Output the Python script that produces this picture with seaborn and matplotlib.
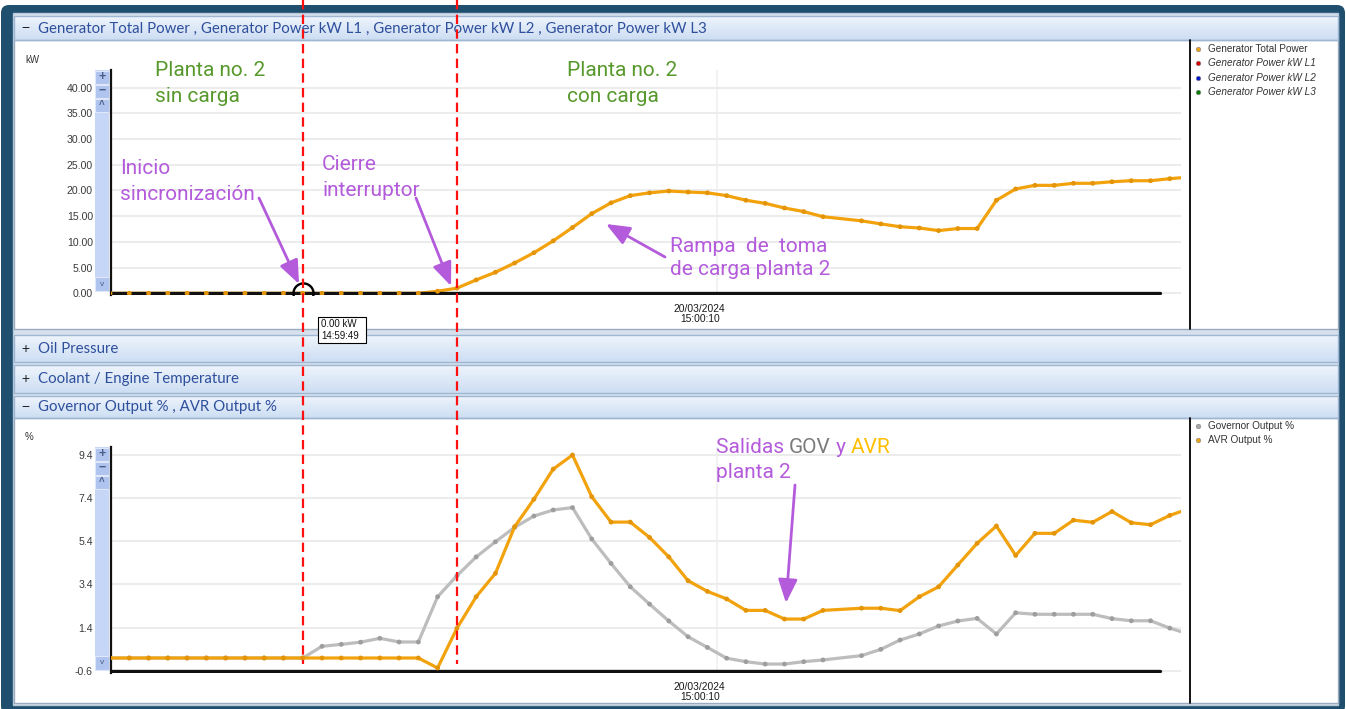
import numpy as np
import matplotlib
matplotlib.use("Agg")
import matplotlib.pyplot as plt
import matplotlib.transforms as mtransforms
from matplotlib.patches import Rectangle, FancyBboxPatch
from matplotlib.colors import LinearSegmentedColormap
import seaborn as sns

sns.set_style("white")
plt.rcParams["font.family"] = ["Liberation Sans", "DejaVu Sans"]

# sample times in seconds after 14:59:40 (sample at 37 s is missing in the log)
t_sec = [-1, 0, 1, 2, 3, 4, 5, 6, 7, 8, 9, 10, 11, 12, 13, 14, 15, 16, 17, 18,
         19, 20, 21, 22, 23, 24, 25, 26, 27, 28, 29, 30, 31, 32, 33, 34, 35, 36,
         38, 39, 40, 41, 42, 43, 44, 45, 46, 47, 48, 49, 50, 51, 52, 53, 54, 55]

gen_total_kw = [0, 0, 0, 0, 0, 0, 0, 0, 0, 0, 0, 0, 0, 0, 0, 0, 0,
                0.4, 1.0, 2.6, 4.1, 5.9, 7.9, 10.2, 12.8, 15.5, 17.6, 19.0,
                19.55, 19.9, 19.7, 19.55, 19.0, 18.1, 17.5, 16.6, 15.9, 14.9,
                14.1, 13.5, 12.95, 12.7, 12.2, 12.6, 12.6, 18.1, 20.3, 21.0,
                21.0, 21.4, 21.4, 21.7, 21.9, 21.9, 22.3, 22.6]

gov_output = [0, 0, 0, 0, 0, 0, 0, 0, 0, 0, 0,
              0.54, 0.63, 0.73, 0.91, 0.74, 0.74, 2.83, 3.80, 4.67, 5.37, 6.04,
              6.56, 6.84, 6.95, 5.50, 4.37, 3.29, 2.49, 1.71, 0.98, 0.49, -0.01,
              -0.17, -0.28, -0.28, -0.17, -0.09,
              0.11, 0.40, 0.83, 1.11, 1.48, 1.71, 1.83, 1.11, 2.09, 2.02, 2.02,
              2.02, 2.02, 1.82, 1.72, 1.72, 1.38, 1.10]

avr_output = [0, 0, 0, 0, 0, 0, 0, 0, 0, 0, 0, 0, 0, 0, 0, 0, 0,
              -0.46, 1.37, 2.83, 3.91, 6.07, 7.34, 8.73, 9.38, 7.45, 6.28, 6.28,
              5.57, 4.67, 3.57, 3.08, 2.73, 2.20, 2.20, 1.80, 1.80, 2.20,
              2.30, 2.30, 2.19, 2.83, 3.29, 4.30, 5.30, 6.10, 4.74, 5.76, 5.76,
              6.37, 6.27, 6.77, 6.25, 6.16, 6.59, 6.90]

kw_ticks = [0, 5, 10, 15, 20, 25, 30, 35, 40]
pct_ticks = [-0.6, 1.4, 3.4, 5.4, 7.4, 9.4]

t_sync = 9      # 14:59:49 inicio sincronizacion
t_close = 17    # cierre interruptor
t_grid = 30.5   # 15:00:10

top_legend = ["Generator Total Power", "Generator Power kW L1",
              "Generator Power kW L2", "Generator Power kW L3"]
top_legend_colors = ["#e8a317", "#d40000", "#0018c8", "#0a7a0a"]
bot_legend = ["Governor Output %", "AVR Output %"]
bot_legend_colors = ["#a8a8a8", "#e8a317"]

ORANGE = "#f2a20c"
GRAY = "#bdbdbd"
PURPLE = "#b35bdb"
GREEN = "#57992c"
HDR_BLUE = "#2e4f9c"
ANN_FONT = ["Roboto", "Lato", "DejaVu Sans"]

W, H = 1346, 709
fig = plt.figure(figsize=(W / 100, H / 100), dpi=100)


def rect(x0, y0, x1, y1):
    return [x0 / W, 1 - y1 / H, (x1 - x0) / W, (y1 - y0) / H]


# ---- window chrome (pixel coordinates, y downwards) ----
bg = fig.add_axes([0, 0, 1, 1])
bg.axis("off")
bg.add_patch(FancyBboxPatch((1, 5), W - 2, H, boxstyle="round,pad=0,rounding_size=8",
                            fc="#1f4e6e", ec="none"))
bg.add_patch(Rectangle((13, 13), 1325, 692, fc="#d6e1ed", ec="#b9c9da", lw=1))

hdr_cmap = LinearSegmentedColormap.from_list("hdr", ["#eef4fc", "#cddef3"])
headers = [(16, 40, "\u2212", "Generator Total Power , Generator Power kW L1 , Generator Power kW L2 , Generator Power kW L3"),
           (335, 362, "+", "Oil Pressure"),
           (365, 393, "+", "Coolant / Engine Temperature"),
           (396, 418, "\u2212", "Governor Output % , AVR Output %")]
for y0, y1, sign, label in headers:
    bg.imshow(np.linspace(0, 1, 32).reshape(-1, 1), cmap=hdr_cmap, aspect="auto",
              extent=[14, 1338, y1, y0], zorder=1)
    bg.add_patch(Rectangle((14, y0), 1324, y1 - y0, fc="none", ec="#9fb6d2", lw=1, zorder=2))
    bg.text(21, (y0 + y1) / 2, sign, color="#222222", fontsize=10, va="center", zorder=3)
    bg.text(38, (y0 + y1) / 2 + 0.5, label, color=HDR_BLUE, fontsize=10.8, va="center",
            family=["Lato", "DejaVu Sans"], zorder=3)

for y0, y1 in [(40, 329), (418, 703)]:
    bg.add_patch(Rectangle((14, y0), 1324, y1 - y0, fc="white", ec="#9aabbd", lw=1, zorder=1))
    bg.plot([1190, 1190], [y0, y1], color="black", lw=1.3, zorder=2)

# y-axis scroll bars
for top, bottom in [(70, 291), (447, 670)]:
    bg.add_patch(Rectangle((95, top), 14, bottom - top, fc="#c6d6f7", ec="none", zorder=2))
    for i, glyph in enumerate(["+", "\u2212", "^"]):
        by = top + i * 14
        bg.add_patch(Rectangle((95, by + 0.5), 14, 13, fc="#afc4ee", ec="#dfe8fb", lw=0.8, zorder=3))
        bg.text(102, by + 7, glyph, ha="center", va="center", fontsize=9 if i < 2 else 7,
                fontweight="bold", color="#4d5d86", zorder=4)
    bg.add_patch(Rectangle((95, bottom - 14), 14, 14, fc="#afc4ee", ec="#dfe8fb", lw=0.8, zorder=3))
    bg.text(102, bottom - 7, "v", ha="center", va="center", fontsize=6, color="#4d5d86", zorder=4)

bg.text(25, 60, "kW", fontsize=7, color="#333333", va="center")
bg.text(25, 437, "%", fontsize=7, color="#333333", va="center")

# legends
for i, (lab, col) in enumerate(zip(top_legend, top_legend_colors)):
    y = 49 + i * 14.3
    bg.scatter([1198], [y], s=11, color=col, edgecolor="#888888", lw=0.4, zorder=3)
    bg.text(1208, y, lab, fontsize=7.2, va="center", color="#333333",
            style="normal" if i == 0 else "italic", zorder=3)
for i, (lab, col) in enumerate(zip(bot_legend, bot_legend_colors)):
    y = 426 + i * 14.3
    bg.scatter([1198], [y], s=11, color=col, edgecolor="#888888", lw=0.4, zorder=3)
    bg.text(1208, y, lab, fontsize=7.2, va="center", color="#333333", zorder=3)

bg.set_xlim(0, W)
bg.set_ylim(H, 0)

# ---- data axes ----
xlim = (-0.95, 54.58)
ax_top = fig.add_axes(rect(111, 70, 1181, 295))
ax_bot = fig.add_axes(rect(111, 447, 1181, 672.5))

for ax, ticks, ylim, fmt in [(ax_top, kw_ticks, (-0.33, 43.44), "{:.2f}"),
                             (ax_bot, pct_ticks, (-0.67, 9.75), "{:.1f}")]:
    ax.set_facecolor("none")
    ax.set_xlim(*xlim)
    ax.set_ylim(*ylim)
    ax.set_yticks(ticks)
    ax.set_yticklabels([fmt.format(v) for v in ticks])
    ax.set_xticks([])
    ax.grid(axis="y", color="#ececec", lw=1.5)
    ax.axvline(t_grid, color="#efefef", lw=1.1, zorder=0)
    ax.tick_params(axis="y", length=0, pad=13, labelsize=7.6, labelcolor="#3a3a3a")
    for s in ["top", "right", "bottom"]:
        ax.spines[s].set_visible(False)
    ax.spines["left"].set_color("#111111")
    ax.spines["left"].set_linewidth(1.6)
    ax.axhline(ticks[0], xmin=0, xmax=0.9806, color="#111111", lw=2.4, zorder=3)
    ax.text(t_grid - 0.9, -0.04, "20/03/2024\n15:00:10", transform=ax.get_xaxis_transform(),
            ha="center", va="top", fontsize=7.4, color="#1a1a1a", linespacing=1.05)

sns.lineplot(x=t_sec, y=gen_total_kw, ax=ax_top, color=ORANGE, linewidth=2.3, zorder=2)
sns.scatterplot(x=t_sec, y=gen_total_kw, ax=ax_top, color="#e39408", s=12,
                edgecolor="none", zorder=4)
ax_top.plot([t_sync], [0], marker="o", markersize=14.5, markerfacecolor="none",
            markeredgecolor="black", markeredgewidth=1.7, zorder=5)

sns.lineplot(x=t_sec, y=gov_output, ax=ax_bot, color=GRAY, linewidth=2.3, zorder=4)
sns.scatterplot(x=t_sec, y=gov_output, ax=ax_bot, color="#9e9e9e", s=12,
                edgecolor="none", zorder=4)
sns.lineplot(x=t_sec, y=avr_output, ax=ax_bot, color=ORANGE, linewidth=2.3, zorder=5)
sns.scatterplot(x=t_sec, y=avr_output, ax=ax_bot, color="#e39408", s=12,
                edgecolor="none", zorder=5)
for ax in (ax_top, ax_bot):
    ax.set_xlabel("")
    ax.set_ylabel("")

# ---- overlay: event lines, notes, tooltip ----
ov = fig.add_axes([0, 0, 1, 1], zorder=10)
ov.set_facecolor("none")
ov.axis("off")
ov.set_xlim(0, W)
ov.set_ylim(H, 0)
blend = mtransforms.blended_transform_factory(ax_top.transData, ov.transData)
for t in (t_sync, t_close):
    ov.plot([t, t], [0, 664], transform=blend, color="#ff1010", lw=1.6,
            dashes=(4.2, 2.4), clip_on=False)

ANN_SIZE = 15
ANN_WEIGHT = "normal"


def note(x, y, lines, color, gap=25.5):
    for i, s in enumerate(lines):
        ov.text(x, y + i * gap, s, color=color, fontsize=ANN_SIZE, family=ANN_FONT,
                fontweight=ANN_WEIGHT, va="baseline")


note(155, 76, ["Planta no. 2", "sin carga"], GREEN)
note(567, 76, ["Planta no. 2", "con carga"], GREEN)
note(120, 174.5, ["Inicio", "sincronizaci\u00f3n"], PURPLE)
note(322, 170, ["Cierre", "interruptor"], PURPLE)
note(670, 251.5, ["Rampa  de  toma", "de carga planta 2"], PURPLE, gap=23.5)
note(716, 477.7, ["planta 2"], PURPLE)

t = ov.text(716, 452.7, "Salidas ", color=PURPLE, fontsize=ANN_SIZE, family=ANN_FONT,
            fontweight=ANN_WEIGHT, va="baseline")
for s, c in [("GOV", "#7a7a7a"), (" y ", PURPLE), ("AVR", "#ffbf00")]:
    t = ov.annotate(s, xy=(1, 0), xycoords=t, va="bottom", color=c, fontsize=ANN_SIZE,
                    family=ANN_FONT, fontweight=ANN_WEIGHT)

arrows = [((259, 198), (299, 284)), ((416, 198), (451, 286)),
          ((665, 257), (606, 224)), ((795, 485), (786, 603))]
for tail, head in arrows:
    ov.annotate("", xy=head, xytext=tail,
                arrowprops=dict(arrowstyle="-|>,head_length=1.1,head_width=0.45",
                                color=PURPLE, lw=2.0, mutation_scale=13,
                                shrinkA=0, shrinkB=0))

ov.add_patch(Rectangle((318, 317), 48, 26, fc="white", ec="black", lw=0.8))
ov.text(321, 324, "0.00 kW", fontsize=7, va="center", color="#111111")
ov.text(321, 336, "14:59:49", fontsize=7, va="center", color="#111111")

fig.savefig("out.png", dpi=100)
